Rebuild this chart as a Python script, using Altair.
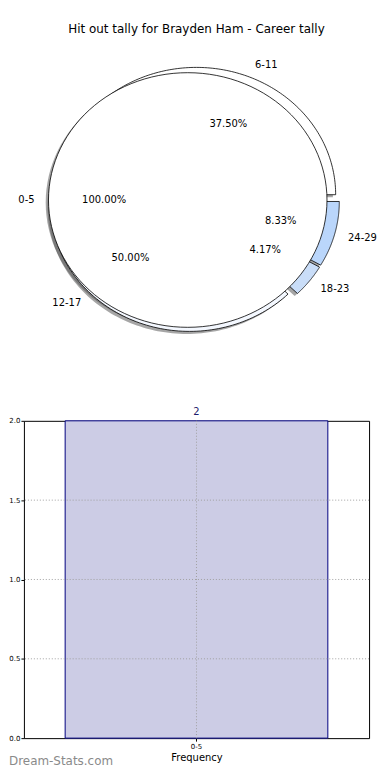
import altair as alt
import pandas as pd

# ---------------- data ----------------
title_text = "Hit out tally for Brayden Ham - Career tally"
outer_labels = ["0-5"]
outer_pct = [100.0]
inner_labels = ["6-11", "12-17", "18-23", "24-29"]
inner_pct = [37.50, 50.00, 4.17, 8.33]
bar_categories = ["0-5"]
bar_counts = [2]
y_ticks = [0.0, 0.5, 1.0, 1.5, 2.0]

# ---------------- style / layout ----------------
FONT = "DejaVu Sans"
wedge_colors = {"0-5": "#ffffff", "6-11": "#ffffff", "12-17": "#f4f8ff",
                "18-23": "#c9ddf8", "24-29": "#bad6fb"}
L, R, T, B = 23, 370, 421, 740          # plot area on the page
W, H = R - L, B - T
CX, CY = 194, 199                        # pie centre on the page
RX, RY = 140, 128                        # pie radii
EX = 0.045                               # explode fraction
SHX, SHY = -0.02 * RX, 0.02 * RY         # shadow offset
N = 120
GRID = dict(stroke="#a0a0a0", strokeDash=[1, 2], strokeWidth=1)

rows = []
for i, (lab, p) in enumerate(zip(inner_labels, inner_pct)):
    rows.append({"pie": "inner", "order": i, "label": lab, "pct": p})
for i, (lab, p) in enumerate(zip(outer_labels, outer_pct)):
    rows.append({"pie": "outer", "order": i, "label": lab, "pct": p})
pie_df = pd.DataFrame(rows)
bar_df = pd.DataFrame({"cat": bar_categories, "count": bar_counts})
tick_df = pd.DataFrame({"v": y_ticks})

xs = alt.Scale(domain=[L, R], nice=False, zero=False)
ys = alt.Scale(domain=[B, T], nice=False, zero=False)
fill_scale = alt.Scale(domain=list(wedge_colors.keys()), range=list(wedge_colors.values()))

pie_base = alt.Chart(pie_df).transform_joinaggregate(
    total="sum(pct)", groupby=["pie"]
).transform_window(
    cum="sum(pct)", groupby=["pie"], sort=[alt.SortField("order")], frame=[None, 0]
).transform_calculate(
    f0="(datum.cum - datum.pct) / datum.total",
    f1="datum.cum / datum.total",
    mid="PI * (datum.f0 + datum.f1)",
    full="datum.f1 - datum.f0 > 0.999",
    cx=f"{CX} + {EX * RX} * cos(datum.mid)",
    cy=f"{CY} - {EX * RY} * sin(datum.mid)",
    lx=f"datum.cx + {1.1 * RX} * cos(datum.mid)",
    ly=f"datum.cy - {1.1 * RY} * sin(datum.mid)",
    tx=f"datum.cx + {0.6 * RX} * cos(datum.mid)",
    ty=f"datum.cy - {0.6 * RY} * sin(datum.mid)",
    ptxt="format(100 * (datum.f1 - datum.f0), '.2f') + '%'",
)

points = pie_base.transform_calculate(
    ks=f"sequence(0, {N + 3})"
).transform_flatten(["ks"], as_=["k"]).transform_filter(
    f"!datum.full || (datum.k >= 1 && datum.k <= {N + 1})"
).transform_calculate(
    onarc=f"datum.k >= 1 && datum.k <= {N + 1}",
    ang=f"2 * PI * (datum.f0 + (datum.f1 - datum.f0) * clamp(datum.k - 1, 0, {N}) / {N})",
    px=f"datum.cx + (datum.onarc ? {RX} * cos(datum.ang) : 0)",
    py=f"datum.cy - (datum.onarc ? {RY} * sin(datum.ang) : 0)",
    sx=f"datum.px + {SHX}",
    sy=f"datum.py + {SHY}",
)

shadow = points.mark_line(fill="#4d4d4d", fillOpacity=0.5, strokeOpacity=0).encode(
    x=alt.X("sx:Q", scale=xs, axis=None),
    y=alt.Y("sy:Q", scale=ys, axis=None),
    detail="label:N",
    order="k:Q",
)

def wedges(which):
    return points.transform_filter(f"datum.pie == '{which}'").mark_line(
        stroke="black", strokeWidth=0.8
    ).encode(
        x=alt.X("px:Q", scale=xs, axis=None),
        y=alt.Y("py:Q", scale=ys, axis=None),
        detail="label:N",
        order="k:Q",
        fill=alt.Fill("label:N", scale=fill_scale, legend=None),
    )

inner_w = wedges("inner")
outer_w = wedges("outer")

lab_r = pie_base.transform_filter("cos(datum.mid) >= 0").mark_text(
    align="left", baseline="middle", fontSize=10, font=FONT, color="black"
).encode(x=alt.X("lx:Q", scale=xs, axis=None), y=alt.Y("ly:Q", scale=ys, axis=None), text="label:N")
lab_l = pie_base.transform_filter("cos(datum.mid) < 0").mark_text(
    align="right", baseline="middle", fontSize=10, font=FONT, color="black"
).encode(x=alt.X("lx:Q", scale=xs, axis=None), y=alt.Y("ly:Q", scale=ys, axis=None), text="label:N")
pct = pie_base.mark_text(
    align="center", baseline="middle", fontSize=10, font=FONT, color="black"
).encode(x=alt.X("tx:Q", scale=xs, axis=None), y=alt.Y("ty:Q", scale=ys, axis=None), text="ptxt:N")

pie_layer = alt.layer(shadow, inner_w, outer_w, lab_r, lab_l, pct)

# ---------------- bar chart ----------------
xband = alt.Scale(paddingInner=0, paddingOuter=0.157)
yscale = alt.Scale(domain=[0, max(y_ticks)], nice=False)

bars = alt.Chart(bar_df).mark_bar(fill="#cccce5", stroke="#000080", strokeWidth=1).encode(
    x=alt.X("cat:N", sort=bar_categories, scale=xband,
            axis=alt.Axis(title="Frequency", labelAngle=0, grid=False,
                          labelFontSize=7, tickSize=3, labelPadding=1,
                          titleFontSize=10, titleFontWeight="normal", titlePadding=3)),
    y=alt.Y("count:Q", scale=yscale,
            axis=alt.Axis(title=None, values=y_ticks, format=".1f", grid=False,
                          labelFontSize=7, tickSize=3, labelPadding=1)),
)
hgrid = alt.Chart(tick_df).transform_filter(
    f"datum.v > 0 && datum.v < {max(y_ticks)}"
).mark_rule(**GRID).encode(y=alt.Y("v:Q", scale=yscale))
vgrid = alt.Chart(bar_df).mark_rule(**GRID).encode(
    x=alt.X("cat:N", sort=bar_categories, scale=xband)
)
value_text = alt.Chart(bar_df).mark_text(
    dy=-9, fontSize=10, font=FONT, color="#1c1c6c", baseline="middle"
).encode(x=alt.X("cat:N", sort=bar_categories), y="count:Q", text="count:Q")
watermark = alt.Chart(bar_df).mark_text(
    text="Dream-Stats.com", align="left", baseline="middle", fontSize=12, font=FONT, color="#8a8a8a"
).encode(x=alt.value(-15), y=alt.value(763 - T))

bar_layer = alt.layer(bars, hgrid, vgrid, value_text, watermark)

chart = alt.layer(bar_layer, pie_layer).resolve_scale(
    x="independent", y="independent"
).properties(
    width=W, height=H,
    title=alt.Title(title_text, fontSize=12, font=FONT, fontWeight="normal",
                    anchor="middle", offset=24, color="black"),
    padding={"left": 0, "top": 13, "right": 5, "bottom": 0},
).configure_view(
    stroke="black", strokeWidth=1
).configure_axis(
    labelFont=FONT, titleFont=FONT, labelColor="black", titleColor="black",
    domain=False, tickColor="black",
)

chart.save("out.html", embed_options={"renderer": "svg", "actions": False})
